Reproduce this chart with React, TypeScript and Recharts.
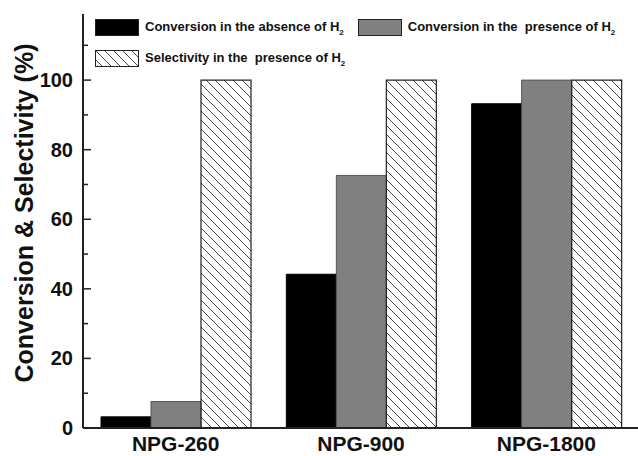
import React from 'react';
import { BarChart, Bar, XAxis, YAxis, Legend } from 'recharts';

const categories = ['NPG-260', 'NPG-900', 'NPG-1800'];
const absenceH2 = [3.2, 44.2, 93.2];
const presenceH2 = [7.6, 72.6, 100];
const selectivityH2 = [100, 100, 100];
const yTicks = [0, 10, 20, 30, 40, 50, 60, 70, 80, 90, 100, 110];
const seriesNames = [
  'Conversion in the absence of H',
  'Conversion in the  presence of H',
  'Selectivity in the  presence of H',
];

const data = categories.map((name, i) => ({
  name,
  absence: absenceH2[i],
  presence: presenceH2[i],
  selectivity: selectivityH2[i],
}));

const FONT = '"Liberation Sans", Arial, sans-serif';

const YTick = (props: any) => {
  const { x, y, payload } = props;
  const major = payload.value % 20 === 0;
  return (
    <g>
      <line x1={x} x2={x + (major ? 8 : 5)} y1={y} y2={y} stroke="#222" strokeWidth={1.5} />
      {major && (
        <text
          x={x - 10}
          y={y}
          textAnchor="end"
          dominantBaseline="central"
          fontFamily={FONT}
          fontWeight="bold"
          fontSize={20}
          fill="#111"
        >
          {payload.value}
        </text>
      )}
    </g>
  );
};

const YLabel = (props: any) => {
  const vb = props.viewBox || {};
  const cx = (vb.x || 0) + 24;
  const cy = (vb.y || 0) + (vb.height || 0) / 2 - 8;
  return (
    <text
      x={cx}
      y={cy}
      transform={`rotate(-90, ${cx}, ${cy})`}
      textAnchor="middle"
      dominantBaseline="central"
      fontFamily={FONT}
      fontWeight="bold"
      fontSize={25}
      fill="#111"
    >
      Conversion &amp; Selectivity (%)
    </text>
  );
};

const swatchFills = ['#000000', '#808080', 'url(#hatch)'];

const LegendContent = () => (
  <div
    style={{
      display: 'flex',
      flexWrap: 'wrap',
      width: 540,
      rowGap: 12,
      fontFamily: FONT,
      fontWeight: 'bold',
      fontSize: 13,
      color: '#111',
      lineHeight: '17px',
    }}
  >
    {seriesNames.map((n, i) => (
      <div
        key={n}
        style={{ display: 'flex', alignItems: 'center', marginRight: i === 0 ? 14 : 0, whiteSpace: 'pre' }}
      >
        <svg width={44} height={17} style={{ display: 'block', marginRight: 6 }}>
          <rect x={0.5} y={0.5} width={43} height={16} fill={swatchFills[i]} stroke="#222" strokeWidth={1} />
        </svg>
        <span>
          {n}
          <sub style={{ fontSize: 8, verticalAlign: 'baseline', position: 'relative', top: 4 }}>2</sub>
        </span>
      </div>
    ))}
  </div>
);

export default function App() {
  return (
    <div style={{ position: 'absolute', left: 0, top: 0, width: 638, height: 456, overflow: 'hidden', background: '#fff' }}>
      <svg width={0} height={0} style={{ position: 'absolute' }}>
        <defs>
          <pattern id="hatch" patternUnits="userSpaceOnUse" width={9} height={9}>
            <path d="M0,0 L9,9 M-3,6 L3,12 M6,-3 L12,3" stroke="#333" strokeWidth={0.9} />
          </pattern>
        </defs>
      </svg>
      <BarChart
        width={660}
        height={456}
        data={data}
        margin={{ top: 14, right: 21, bottom: 0, left: 0 }}
        barCategoryGap={18}
        barGap={0}
      >
        <XAxis
          dataKey="name"
          tickLine={false}
          axisLine={{ stroke: '#222', strokeWidth: 2 }}
          height={28}
          tick={{ fontFamily: FONT, fontWeight: 'bold', fontSize: 21, fill: '#111' }}
        />
        <XAxis
          xAxisId="top"
          orientation="top"
          dataKey="name"
          tick={false}
          tickLine={false}
          height={0}
          axisLine={{ stroke: '#222', strokeWidth: 2 }}
        />
        <YAxis
          domain={[0, 119]}
          ticks={yTicks}
          interval={0}
          width={83}
          tickSize={0}
          tickMargin={0}
          tickLine={false}
          axisLine={{ stroke: '#222', strokeWidth: 2 }}
          tick={<YTick />}
          label={<YLabel />}
        />
        <Legend
          layout="horizontal"
          verticalAlign="middle"
          align="center"
          content={<LegendContent />}
          wrapperStyle={{ position: 'absolute', left: 95, top: 18, width: 540 }}
        />
        <Bar dataKey="absence" fill="#000000" stroke="#000" strokeWidth={1} isAnimationActive={false} />
        <Bar dataKey="presence" fill="#808080" stroke="#555" strokeWidth={1} isAnimationActive={false} />
        <Bar dataKey="selectivity" fill="url(#hatch)" stroke="#222" strokeWidth={1.2} isAnimationActive={false} />
      </BarChart>
    </div>
  );
}
